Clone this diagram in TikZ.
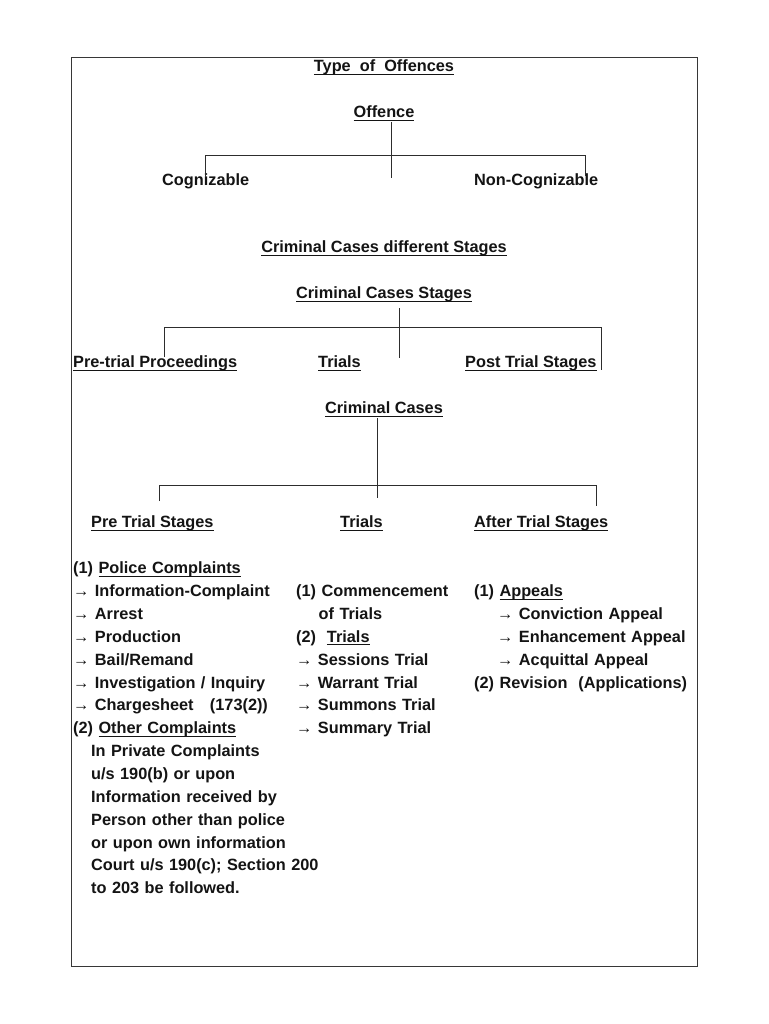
\documentclass[tikz,border=0pt]{standalone}
\usepackage{fontspec}
\setmainfont{Liberation Sans}
\usetikzlibrary{positioning}
\definecolor{inkgray}{RGB}{45,45,45}
\definecolor{framegray}{RGB}{55,55,55}
\definecolor{textblack}{RGB}{20,20,20}
\newcommand{\ultext}[1]{\setbox0\hbox{#1}\rlap{\rule[-3pt]{\wd0}{0.9pt}}\box0}
\newcommand{\firststrut}{\rule{0pt}{13pt}}
\tikzset{
  basefont/.style={font=\bfseries\fontsize{16.3}{22.86}\selectfont, text=textblack},
  heading/.style={basefont, anchor=base, inner sep=0pt},
  leaf/.style={basefont, anchor=base west, inner sep=0pt},
  listcol/.style={basefont, anchor=north west, inner sep=0pt, align=left},
  treeline/.style={draw=inkgray, line width=0.9pt},
}

\begin{document}
\begin{tikzpicture}[x=1pt, y=-1pt]
  \useasboundingbox (0,0) rectangle (768,1024);
  \fill[white] (0,0) rectangle (768,1024);
  \draw[framegray, line width=1pt] (71,58) rectangle (697,966);

  % Type of offences
  \node[heading] (typetitle) at (384,71.5) {\ultext{Type\ \ of\ \ Offences}};
  \node[heading] (offence) at (384,117.5) {\ultext{Offence}};
  \node[leaf] (cogn) at (162,185.5) {Cognizable};
  \node[leaf] (noncogn) at (474,185.5) {Non-Cognizable};

  \coordinate (offtop) at (391,122);
  \coordinate (offbot) at (391,178);
  \coordinate (offL) at (205,155);
  \coordinate (offR) at (585,155);
  \draw[treeline] (offtop) -- (offbot);
  \draw[treeline] (205,177) -- (offL) -- (offR) -- (585,176);

  % Criminal cases stages
  \node[heading] (stagestitle) at (384,252.5) {\ultext{Criminal Cases different Stages}};
  \node[heading] (stagesroot) at (384,298.5) {\ultext{Criminal Cases Stages}};
  \node[leaf] (pretrial) at (73,367.5) {\ultext{Pre-trial Proceedings}};
  \node[leaf] (trialsA) at (318,367.5) {\ultext{Trials}};
  \node[leaf] (posttrial) at (465,367.5) {\ultext{Post Trial Stages}};

  \coordinate (stgtop) at (399,308);
  \coordinate (stgbot) at (399,358);
  \coordinate (stgL) at (164,327);
  \coordinate (stgR) at (601,327);
  \draw[treeline] (stgtop) -- (stgbot);
  \draw[treeline] (164,357) -- (stgL) -- (stgR) -- (601,370);

  % Criminal cases
  \node[heading] (casesroot) at (384,413.5) {\ultext{Criminal Cases}};
  \node[leaf] (prestages) at (91,527.5) {\ultext{Pre Trial Stages}};
  \node[leaf] (trialsB) at (340,527.5) {\ultext{Trials}};
  \node[leaf] (afterstages) at (474,527.5) {\ultext{After Trial Stages}};

  \coordinate (cstop) at (377,418);
  \coordinate (csbot) at (377,498);
  \coordinate (csL) at (159,485);
  \coordinate (csR) at (596,485);
  \draw[treeline] (cstop) -- (csbot);
  \draw[treeline] (159,501) -- (csL) -- (csR) -- (596,506);

  % Lists
  \node[listcol, text width=300pt] (prelist) at (73,560.5) {
    \firststrut(1) \ultext{Police Complaints}\\
    → Information-Complaint\\
    → Arrest\\
    → Production\\
    → Bail/Remand\\
    → Investigation / Inquiry\\
    → Chargesheet\ \ \ (173(2))\\
    (2) \ultext{Other Complaints}\\
    \hspace*{18pt}In Private Complaints\\
    \hspace*{18pt}u/s 190(b) or upon\\
    \hspace*{18pt}Information received by\\
    \hspace*{18pt}Person other than police\\
    \hspace*{18pt}or upon own information\\
    \hspace*{18pt}Court u/s 190(c); Section 200\\
    \hspace*{18pt}to 203 be followed.
  };
  \node[listcol, text width=200pt] (triallist) at (296,583.4) {
    \firststrut(1) Commencement\\
    \hspace*{22.5pt}of Trials\\
    (2)\ \ \ultext{Trials}\\
    → Sessions Trial\\
    → Warrant Trial\\
    → Summons Trial\\
    → Summary Trial
  };
  \node[listcol, text width=260pt] (afterlist) at (474,583.4) {
    \firststrut(1) \ultext{Appeals}\\
    \hspace*{23pt}→ Conviction Appeal\\
    \hspace*{23pt}→ Enhancement Appeal\\
    \hspace*{23pt}→ Acquittal Appeal\\
    (2) Revision\ \ (Applications)
  };
\end{tikzpicture}
\end{document}
